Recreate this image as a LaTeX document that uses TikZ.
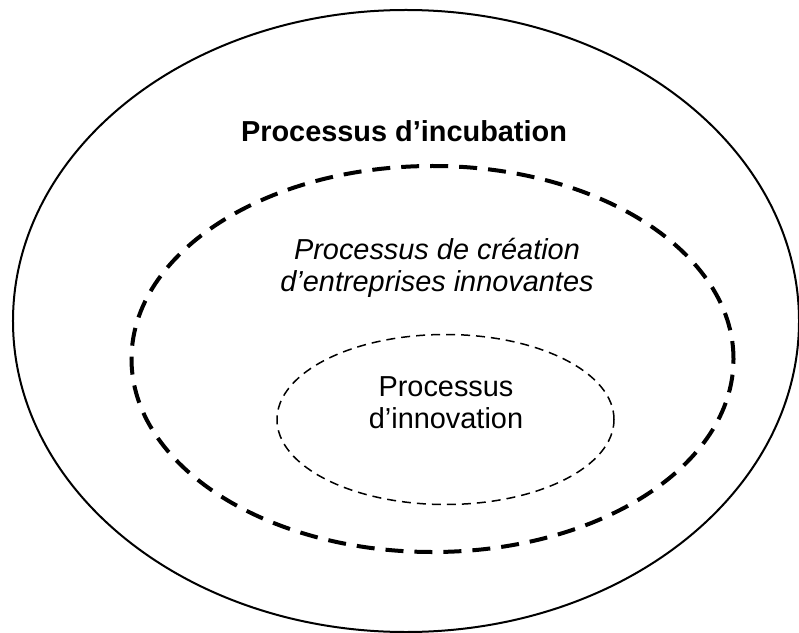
\documentclass[tikz,border=0pt]{standalone}
\usepackage{fontspec}
\setmainfont{Liberation Sans}
\begin{document}
\begin{tikzpicture}[x=1bp,y=-1bp,
	txt/.style={font=\fontsize{29}{32}\selectfont, inner sep=0pt, anchor=base, align=center}]

	\useasboundingbox (0,0) rectangle (799,633);

	% incubation
	\draw [line width=2bp] (406,321) ellipse [x radius=393bp, y radius=311bp];
	\node[txt, font=\fontsize{29}{32}\selectfont\bfseries] (incubation) at (404,141.7) {Processus d’incubation};

	% creation d'entreprises (base = last line)
	\draw [line width=4bp, dash pattern=on 18bp off 11bp] (432.5,359) ellipse [x radius=301bp, y radius=193bp];
	\node[txt, font=\fontsize{29}{32}\selectfont\itshape] (creation) at (437,291.7) {Processus de création\\d’entreprises innovantes};

	% innovation
	\draw [line width=1.5bp, dash pattern=on 9bp off 6bp] (445.5,419.5) ellipse [x radius=168.5bp, y radius=85bp];
	\node[txt] (innovation) at (446,428) {Processus\\d’innovation};
\end{tikzpicture}
\end{document}
